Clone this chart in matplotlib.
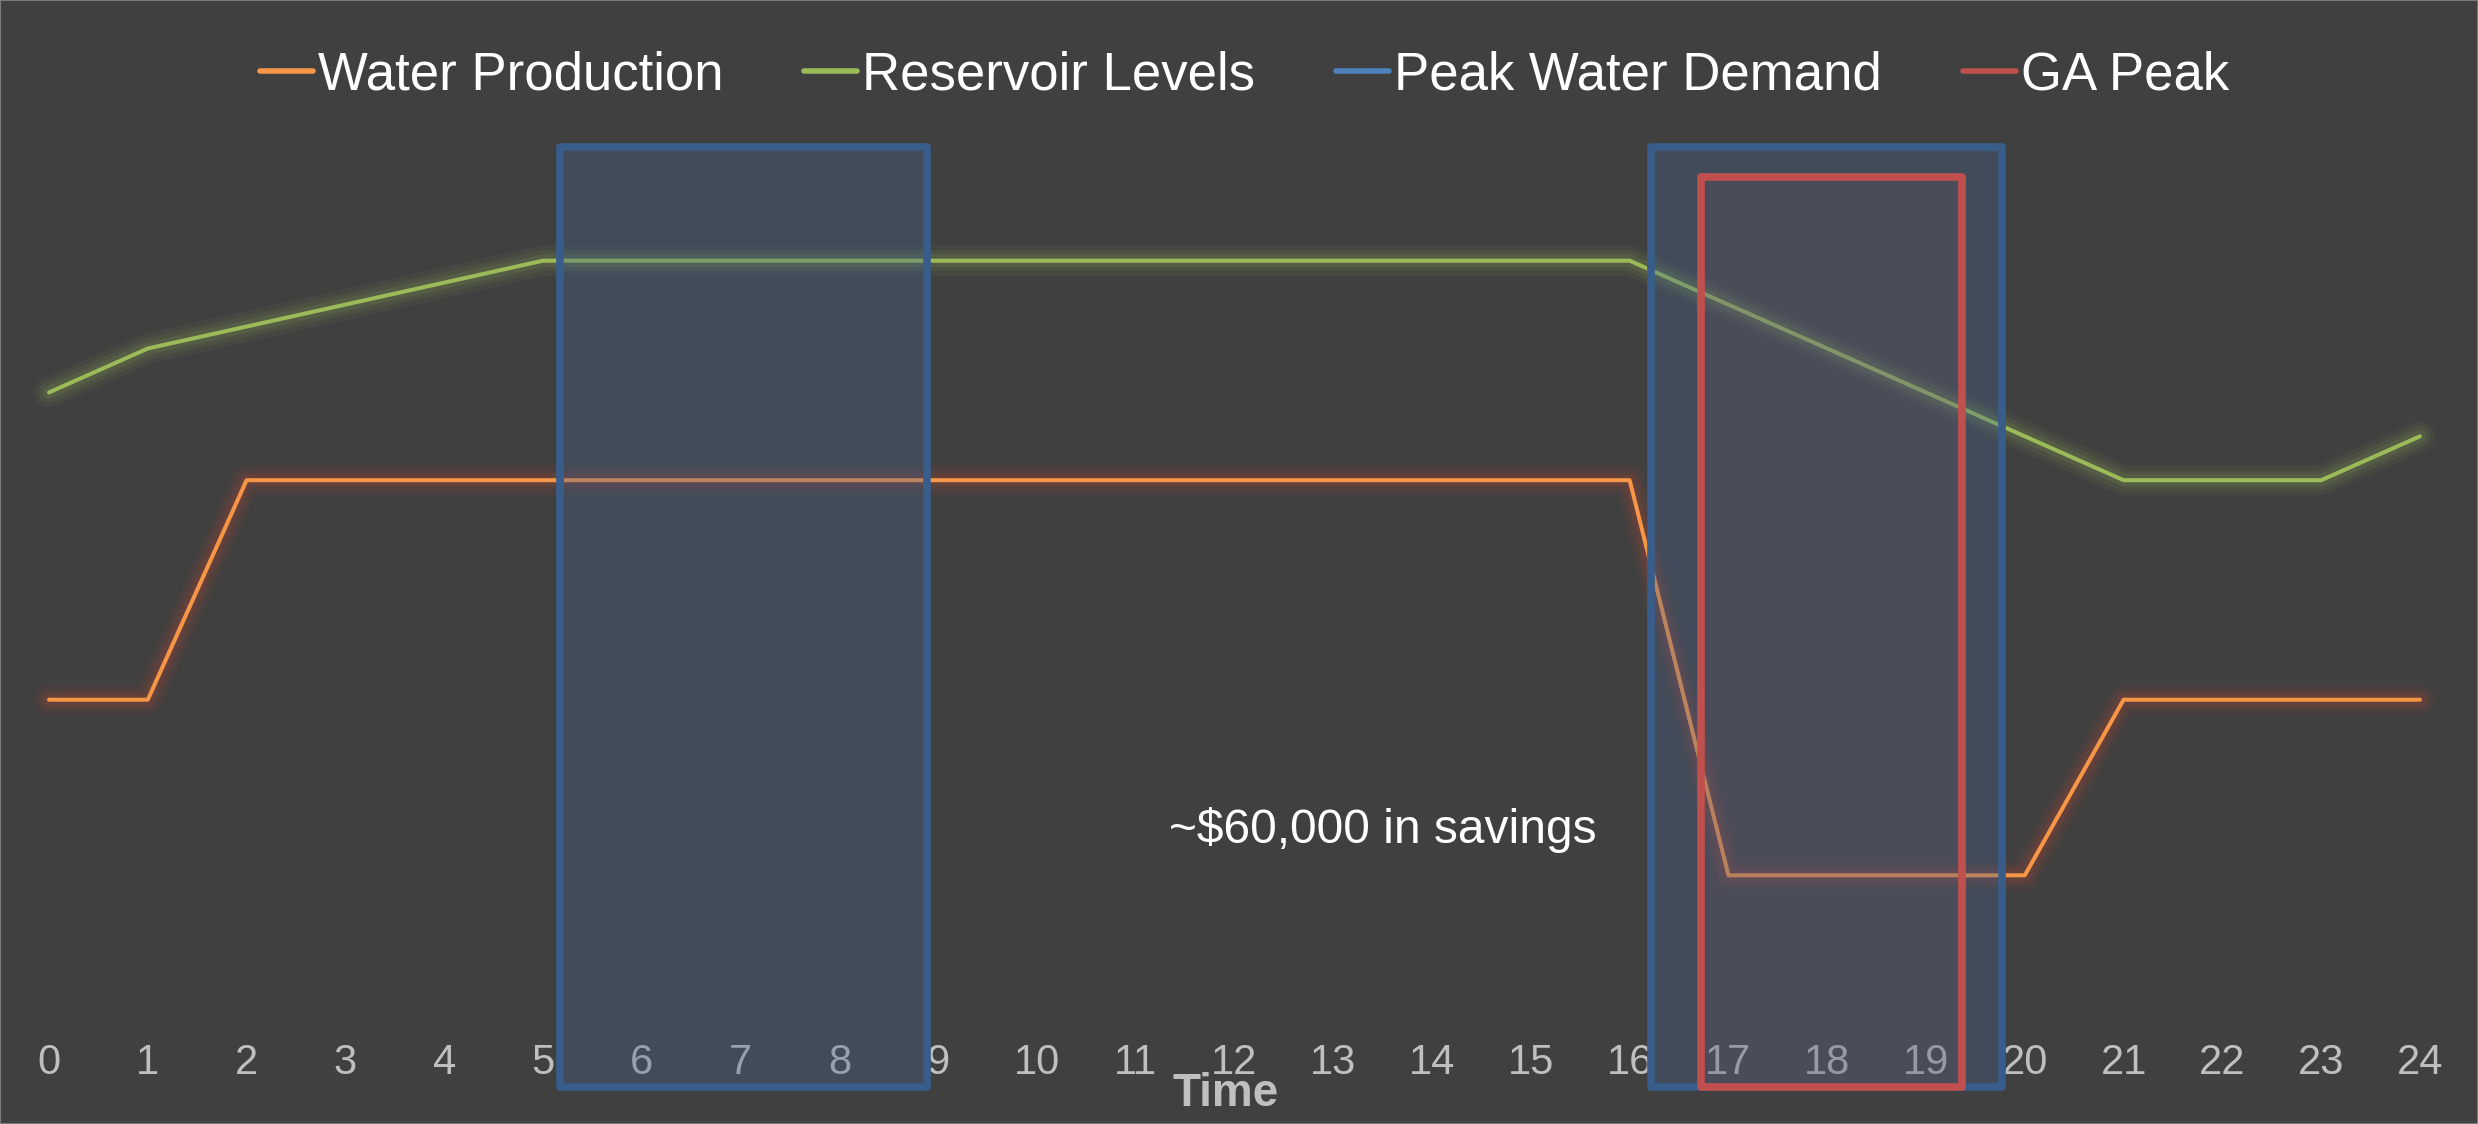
import matplotlib
matplotlib.use('Agg')
import matplotlib.pyplot as plt
from matplotlib.lines import Line2D
from matplotlib.patches import Rectangle

plt.rcParams['font.family'] = ['Liberation Sans', 'DejaVu Sans']

# data
hours = list(range(25))
water_production = [6, 6] + [11] * 15 + [2] * 4 + [6] * 4
reservoir_levels = [13, 14, 14.5, 15, 15.5] + [16] * 12 + [15, 14, 13, 12, 11, 11, 11, 12]
peak_demand = [(5.17, 8.89), (16.22, 19.77)]
ga_peak = [(16.72, 19.36)]
legend_labels = ['Water Production', 'Reservoir Levels', 'Peak Water Demand', 'GA Peak']
note = '~$60,000 in savings'

bg = '#404040'
orange = '#F79646'
green = '#9BBB59'
blue = '#4F81BD'
red = '#C0504D'

fig = plt.figure(figsize=(24.78, 11.24), dpi=100, facecolor=bg)
ax = fig.add_axes([9.5 / 2478, 1 - 1007 / 1124, 2450 / 2478, 878 / 1124])
ax.set_facecolor(bg)
ax.set_xlim(-0.4, 24.4)
ax.set_ylim(-1, 19)
for s in ax.spines.values():
    s.set_visible(False)
ax.set_yticks([])
ax.set_xticks(hours)
ax.tick_params(axis='x', length=0, pad=26, labelsize=30, labelcolor='#BFBFBF')

# glowing lines
for ys, col, glow in [(water_production, orange, '#D8442F'), (reservoir_levels, green, green)]:
    for lw, a in [(22, 0.06), (15, 0.09), (9, 0.12)]:
        ax.plot(hours, ys, color=glow, lw=lw, alpha=a, solid_capstyle='round',
                solid_joinstyle='round', zorder=2)
    ax.plot(hours, ys, color=col, lw=2.9, solid_capstyle='round', zorder=3)

# peak windows
for x0, x1 in peak_demand:
    ax.add_patch(Rectangle((x0, -2.82), x1 - x0, 18.59 + 2.82, facecolor='#44648C', alpha=0.33,
                           edgecolor='none', clip_on=False, zorder=5))
    ax.add_patch(Rectangle((x0, -2.82), x1 - x0, 18.59 + 2.82, facecolor='none',
                           edgecolor='#385D8A', lw=5.5, joinstyle='round', clip_on=False, zorder=6))
for x0, x1 in ga_peak:
    ax.add_patch(Rectangle((x0, -2.82), x1 - x0, 17.9 + 2.82, facecolor='#9B5663', alpha=0.1,
                           edgecolor='none', clip_on=False, zorder=7))
    ax.add_patch(Rectangle((x0, -2.82), x1 - x0, 17.9 + 2.82, facecolor='none',
                           edgecolor=red, lw=5.5, joinstyle='round', clip_on=False, zorder=8))

ax.text(13.5, 3.03, note, color='white', fontsize=34.5, ha='center', va='center', zorder=9)

ax.set_xlabel('Time', fontsize=33, fontweight='bold', color='#BFBFBF')
ax.xaxis.label.set_va('center')
ax.xaxis.set_label_coords(0.4965, -0.099)

handles = [Line2D([], [], color=c, lw=4, solid_capstyle='round') for c in [orange, green, blue, red]]
leg = fig.legend(handles, legend_labels, loc='center', bbox_to_anchor=(1244.5 / 2478, 1 - 75 / 1124),
                 ncol=4, frameon=False, fontsize=38, labelcolor='white', handlelength=1.0,
                 handletextpad=0.1, columnspacing=1.53)

# thin outer border
fig.add_artist(Rectangle((0, 0), 1, 1, transform=fig.transFigure, facecolor='none',
                         edgecolor='#7A7A7A', lw=1.5))

fig.savefig('out.png', dpi=100, facecolor=bg)
